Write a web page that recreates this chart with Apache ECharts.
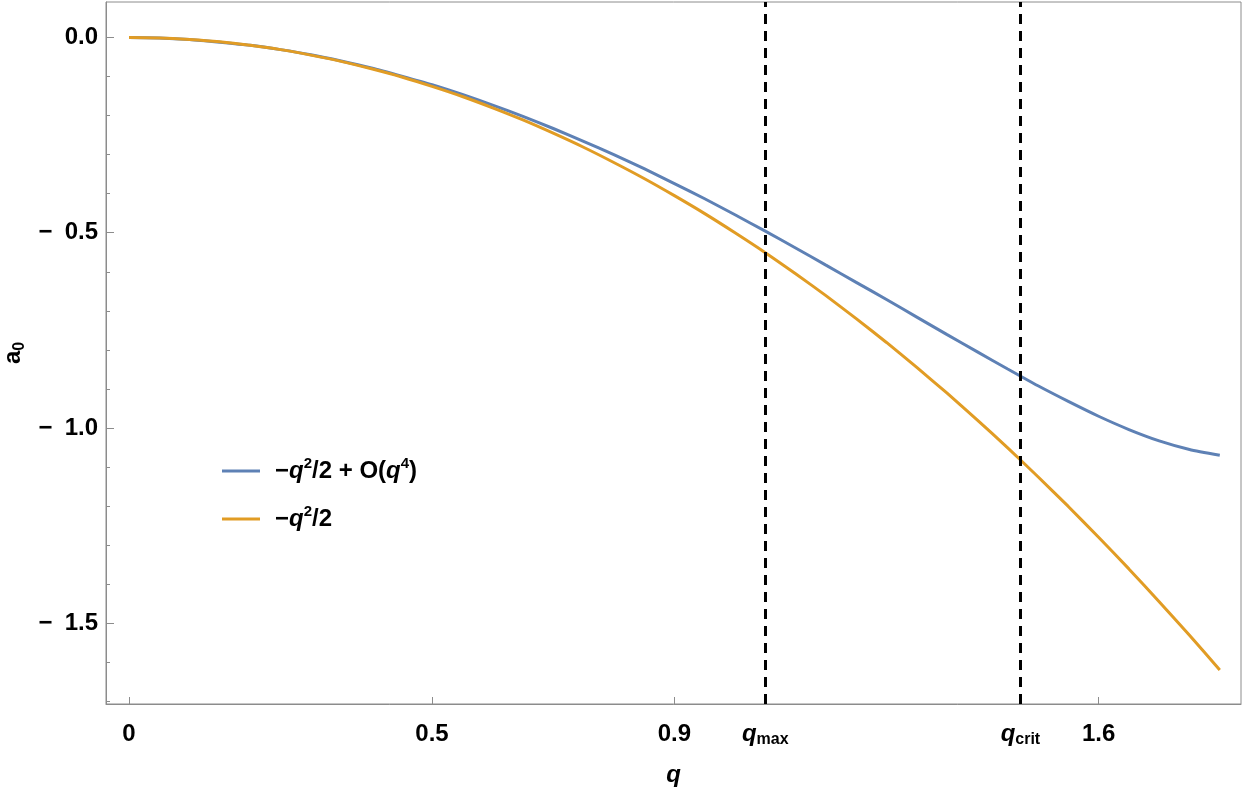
<!DOCTYPE html>
<html>
<head>
<meta charset="utf-8">
<title>a0 vs q</title>
<script src="https://cdn.jsdelivr.net/npm/echarts@6/dist/echarts.min.js"></script>
<style>
  html, body { margin: 0; padding: 0; background: #fff; }
  #chartContainerID { width: 1246px; height: 788px; }
</style>
</head>
<body>
<div id="chartContainerID"></div>
<script>
// values, step 0.05 in q
let qValues = [0, 0.05, 0.1, 0.15, 0.2, 0.25, 0.3, 0.35, 0.4, 0.45, 0.5, 0.55, 0.6, 0.65, 0.7, 0.75, 0.8, 0.85, 0.9,
               0.95, 1.0, 1.05, 1.1, 1.15, 1.2, 1.25, 1.3, 1.35, 1.4, 1.45, 1.5, 1.55, 1.6, 1.65, 1.7, 1.75, 1.8];
let seriesBlue = [0, -0.001, -0.005, -0.012, -0.020, -0.031, -0.044, -0.060, -0.078, -0.099, -0.121, -0.146,
                  -0.173, -0.202, -0.233, -0.266, -0.300, -0.336, -0.374, -0.413, -0.454, -0.496, -0.539,
                  -0.583, -0.627, -0.671, -0.716, -0.761, -0.805, -0.849, -0.892, -0.932, -0.970, -1.004,
                  -1.033, -1.055, -1.070];
let seriesOrange = [0, -0.001, -0.005, -0.011, -0.020, -0.031, -0.045, -0.061, -0.080, -0.101, -0.125, -0.151,
                    -0.180, -0.211, -0.245, -0.281, -0.320, -0.361, -0.405, -0.451, -0.500, -0.551, -0.605,
                    -0.661, -0.720, -0.781, -0.845, -0.911, -0.980, -1.051, -1.125, -1.201, -1.280, -1.361,
                    -1.445, -1.531, -1.620];
let seriesNames = ['blue', 'orange'];

let qMax = 1.05;
let qCrit = 1.471;
let xTickValues = [0, 0.5, 0.9, qMax, qCrit, 1.6];
let xTickLabels = ['0', '0.5', '0.9', '{qi|q}{sub|max}', '{qi|q}{sub|crit}', '1.6'];
let yTickValues = [0, -0.5, -1.0, -1.5];
let yTickLabels = ['0.0', '\u2212\u20020.5', '\u2212\u20021.0', '\u2212\u20021.5'];
let yMinorTicks = [-0.1, -0.2, -0.3, -0.4, -0.6, -0.7, -0.8, -0.9, -1.1, -1.2, -1.3, -1.4, -1.6, -1.7];

let chartContainerID = document.getElementById("chartContainerID");
let myChart = echarts.init(chartContainerID, null, { renderer: 'canvas' });

let font = 'Liberation Sans';
let frameColor = '#8c8c8c';

function pairs(ys) {
  let out = [];
  for (let i = 0; i < qValues.length; i++) {
    out.push([qValues[i], ys[i]]);
  }
  return out;
}

function pickLabel(values, labels, v) {
  for (let i = 0; i < values.length; i++) {
    if (Math.abs(values[i] - v) < 1e-6) return labels[i];
  }
  return '';
}

let labelRich = {
  qi: { fontFamily: font, fontWeight: 'bold', fontStyle: 'italic', fontSize: 24, color: '#000', lineHeight: 28 },
  sub: { fontFamily: font, fontWeight: 'bold', fontSize: 16, color: '#000', lineHeight: 18, verticalAlign: 'bottom' }
};

let legendRich = {
  b: { fontFamily: font, fontWeight: 'bold', fontSize: 24, color: '#000', lineHeight: 30 },
  i: { fontFamily: font, fontWeight: 'bold', fontStyle: 'italic', fontSize: 24, color: '#000', lineHeight: 30 },
  sup: { fontFamily: font, fontWeight: 'bold', fontSize: 15, color: '#000', lineHeight: 18, verticalAlign: 'top' }
};

var option = {
  animation: false,
  backgroundColor: '#fff',
  grid: {
    left: 106, right: 5, top: 2, bottom: 84,
    outerBoundsMode: 'none',
    containLabel: false,
    show: true, borderColor: frameColor, borderWidth: 1
  },
  legend: {
    orient: 'vertical',
    left: 222,
    top: 456,
    padding: 0,
    icon: 'rect',
    itemWidth: 38,
    itemHeight: 3,
    itemGap: 21,
    data: seriesNames,
    formatter: function (name) {
      if (name === 'blue') return '{b|\u2212}{i|q}{sup|2}{b|/2 + O(}{i|q}{sup|4}{b|)}';
      return '{b|\u2212}{i|q}{sup|2}{b|/2}';
    },
    textStyle: { padding: [0, 0, 0, 10], rich: legendRich }
  },
  xAxis: {
    type: 'value',
    min: -0.038,
    max: 1.835,
    name: 'q',
    nameLocation: 'middle',
    nameGap: 59,
    nameTextStyle: { fontFamily: font, fontWeight: 'bold', fontStyle: 'italic', fontSize: 24, color: '#000' },
    axisLine: { onZero: false, lineStyle: { color: frameColor, width: 1 } },
    axisTick: { inside: true, length: 7, customValues: xTickValues, lineStyle: { color: frameColor } },
    axisLabel: {
      customValues: xTickValues,
      margin: 16,
      fontFamily: font, fontWeight: 'bold', fontSize: 24, color: '#000', lineHeight: 28,
      formatter: function (v) { return pickLabel(xTickValues, xTickLabels, v); },
      rich: labelRich
    },
    splitLine: { show: false }
  },
  yAxis: [{
    type: 'value',
    min: -1.707,
    max: 0.091,
    name: '{a|a}{sub|0}',
    nameLocation: 'middle',
    nameRotate: 90,
    nameGap: 66,
    nameTextStyle: {
      rich: {
        a: { fontFamily: font, fontWeight: 'bold', fontSize: 24, color: '#000', lineHeight: 28 },
        sub: { fontFamily: font, fontWeight: 'bold', fontSize: 16, color: '#000', lineHeight: 18, verticalAlign: 'bottom' }
      }
    },
    axisLine: { onZero: false, lineStyle: { color: frameColor, width: 1 } },
    axisTick: { inside: true, length: 8, customValues: yTickValues, lineStyle: { color: frameColor } },
    axisLabel: {
      customValues: yTickValues,
      margin: 8,
      fontFamily: font, fontWeight: 'bold', fontSize: 24, color: '#000',
      formatter: function (v) { return pickLabel(yTickValues, yTickLabels, v); }
    },
    splitLine: { show: false }
  }, {
    type: 'value',
    min: -1.707,
    max: 0.091,
    position: 'left',
    axisLine: { show: false, onZero: false },
    axisTick: { inside: true, length: 4, customValues: yMinorTicks, lineStyle: { color: frameColor } },
    axisLabel: { show: false },
    splitLine: { show: false }
  }],
  series: [{
    name: 'blue',
    type: 'line',
    data: pairs(seriesBlue),
    smooth: 0.2,
    showSymbol: false,
    symbol: 'none',
    color: '#5E81B5',
    lineStyle: { width: 3, color: '#5E81B5' },
    z: 2
  }, {
    name: 'orange',
    type: 'line',
    data: pairs(seriesOrange),
    smooth: 0.2,
    showSymbol: false,
    symbol: 'none',
    color: '#E19C24',
    lineStyle: { width: 3, color: '#E19C24' },
    z: 3
  }, {
    name: 'markers',
    type: 'line',
    data: [],
    z: 5,
    markLine: {
      silent: true,
      symbol: ['none', 'none'],
      label: { show: false },
      lineStyle: { color: '#000', width: 3, type: [10, 7] },
      data: [{ xAxis: qMax }, { xAxis: qCrit }]
    }
  }]
};

myChart.setOption(option);
</script>
</body>
</html>
